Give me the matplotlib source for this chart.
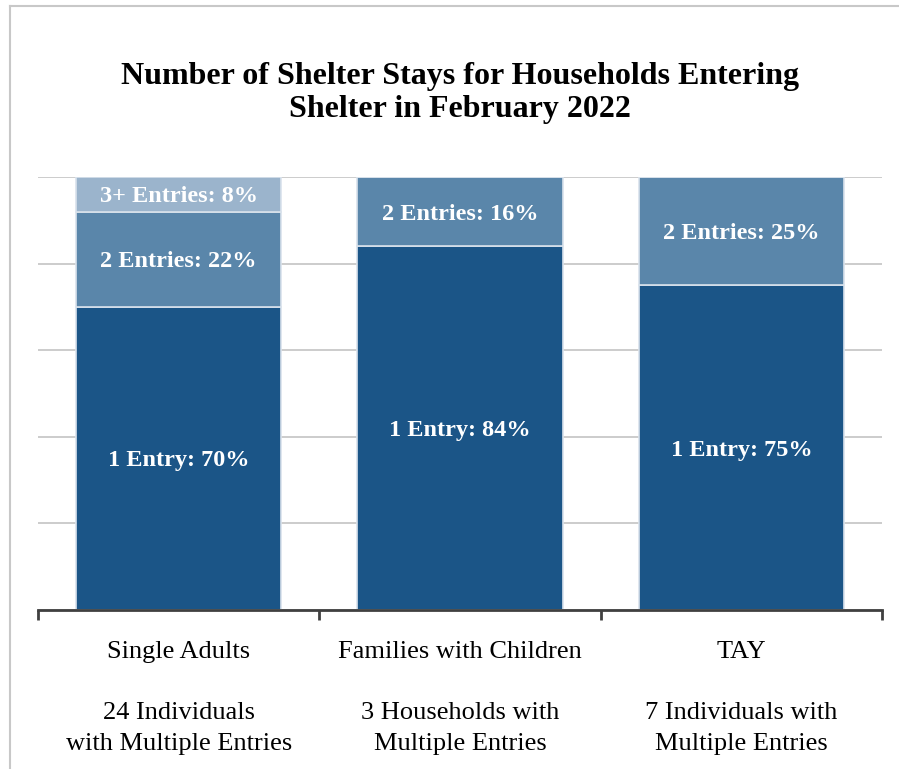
import matplotlib.pyplot as plt
from matplotlib.lines import Line2D
import numpy as np

plt.rcParams['font.family'] = ['Liberation Serif', 'DejaVu Serif']

categories = ['Single Adults', 'Families with Children', 'TAY']
subtitles = ['24 Individuals\nwith Multiple Entries',
             '3 Households with\nMultiple Entries',
             '7 Individuals with\nMultiple Entries']
one_entry = [70, 84, 75]
two_entries = [22, 16, 25]
three_plus = [8, 0, 0]

series = [
    ('1 Entry', one_entry, '#1B5587'),
    ('2 Entries', two_entries, '#5A86AA'),
    ('3+ Entries', three_plus, '#9BB4CC'),
]

fig = plt.figure(figsize=(8.99, 7.69), dpi=100)
ax = fig.add_axes([38 / 899, 1 - 610 / 769, 844 / 899, 433 / 769])

x = np.arange(len(categories))
bottom = np.zeros(len(categories))
for name, vals, color in series:
    vals = np.array(vals, dtype=float)
    ax.bar(x, vals, 0.73, bottom=bottom, color=color,
           edgecolor='#D9E2EC', linewidth=1.2, zorder=2)
    for xi, v, b in zip(x, vals, bottom):
        if v > 0:
            ax.text(xi, b + v / 2, f'{name}: {v:.0f}%', ha='center',
                    va='center_baseline', color='white', fontsize=17.5,
                    fontweight='bold', zorder=3)
    bottom += vals

ax.set_xlim(-0.5, 2.5)
ax.set_ylim(0, 100)
ax.set_yticks(np.arange(0, 101, 20))
ax.yaxis.grid(True, color='#C4C4C4', linewidth=1.2, zorder=0)
ax.set_axisbelow(True)
ax.tick_params(axis='y', left=False, labelleft=False)

for s in ['top', 'right', 'left']:
    ax.spines[s].set_visible(False)
ax.spines['bottom'].set_color('#404040')
ax.spines['bottom'].set_linewidth(2)

ax.set_xticks(x)
ax.set_xticklabels([f'{c}\n\n{s}' for c, s in zip(categories, subtitles)],
                   fontsize=19, linespacing=1.5, va='top')
ax.tick_params(axis='x', which='major', length=0, pad=22.5)
ax.set_xticks([-0.5, 0.5, 1.5, 2.5], minor=True)
ax.tick_params(axis='x', which='minor', length=7, width=2,
               color='#404040', direction='out')

fig.text(0.512, 1 - 93 / 769,
         'Number of Shelter Stays for Households Entering\nShelter in February 2022',
         ha='center', va='center', fontsize=23, fontweight='bold',
         linespacing=1.18)

# outer frame (top and left edges)
border = '#C8C8C8'
fig.add_artist(Line2D([10 / 899, 1], [1 - 6 / 769, 1 - 6 / 769],
                      transform=fig.transFigure, color=border, lw=1.5))
fig.add_artist(Line2D([10 / 899, 10 / 899], [0, 1 - 6 / 769],
                      transform=fig.transFigure, color=border, lw=1.5))

fig.savefig('out.png', dpi=100)
